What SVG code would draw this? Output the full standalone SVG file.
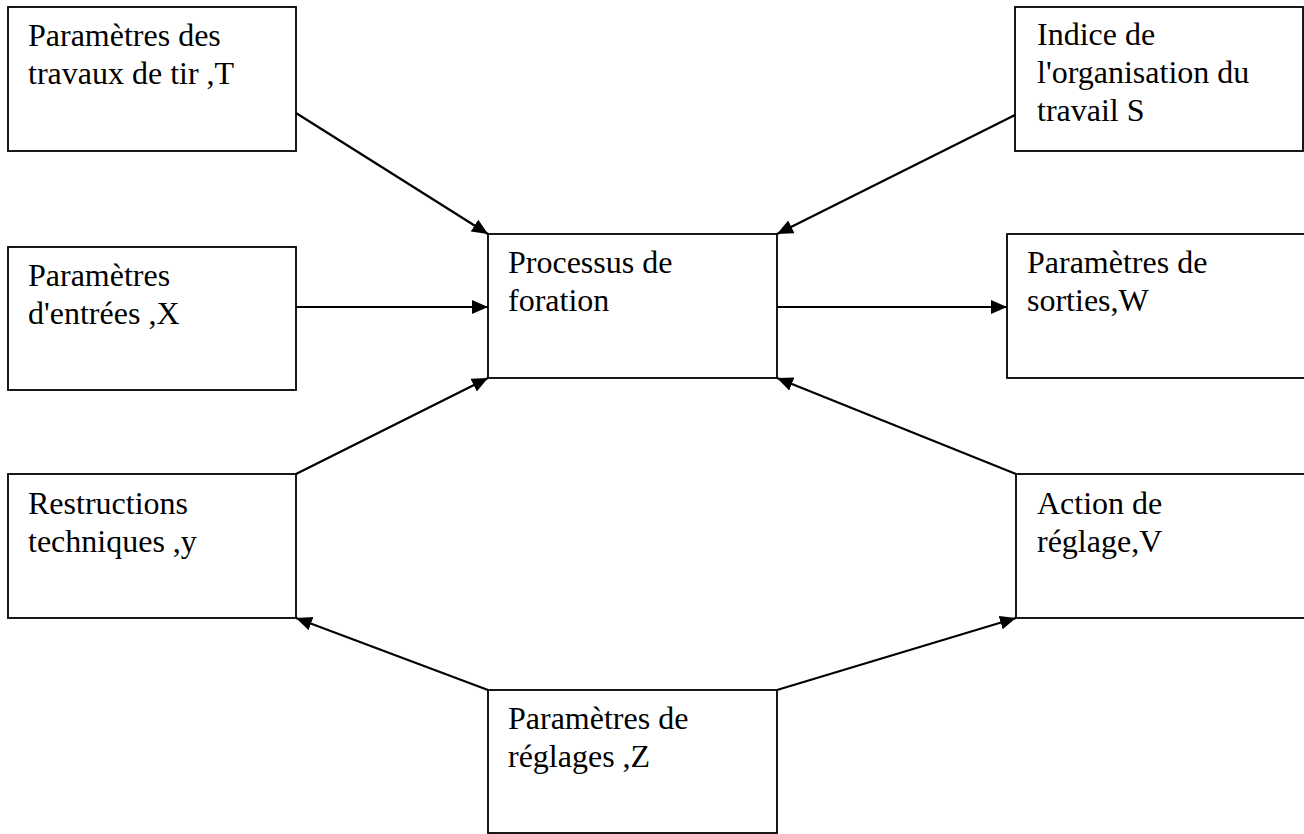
<svg xmlns="http://www.w3.org/2000/svg" width="1304" height="834" viewBox="0 0 1304 834">
  <style>
    .box { fill: #ffffff; stroke: #000000; stroke-width: 1.8; }
    .lbl { font-family: 'Times New Roman', 'Liberation Serif', 'DejaVu Serif', serif; font-size: 32px; fill: #000000; }
    .con { stroke: #000000; stroke-width: 2.2; fill: none; marker-end: url(#arr); }
  </style>
  <defs>
    <marker id="arr" markerUnits="userSpaceOnUse" markerWidth="18" markerHeight="16" refX="16" refY="7" orient="auto">
      <path d="M0,0 L16,7 L0,14 z" fill="#000000"/>
    </marker>
  </defs>
  <rect width="1304" height="834" fill="#ffffff"/>

  <g id="connectors">
    <line class="con" x1="296" y1="113" x2="488" y2="234"/>
    <line class="con" x1="1015" y1="115" x2="777" y2="234"/>
    <line class="con" x1="296" y1="307" x2="488" y2="307"/>
    <line class="con" x1="777" y1="307" x2="1007" y2="307"/>
    <line class="con" x1="296" y1="474" x2="488" y2="378"/>
    <line class="con" x1="1016" y1="474" x2="777" y2="378"/>
    <line class="con" x1="488" y1="690" x2="296" y2="618"/>
    <line class="con" x1="777" y1="690" x2="1016" y2="618"/>
  </g>

  <g id="node-T">
    <rect class="box" x="8" y="7" width="288" height="144"/>
    <text class="lbl" x="28" y="46">Paramètres des</text>
    <text class="lbl" x="28" y="84">travaux de tir ,T</text>
  </g>

  <g id="node-S">
    <rect class="box" x="1015" y="7" width="288" height="144"/>
    <text class="lbl" x="1037" y="45">Indice de</text>
    <text class="lbl" x="1037" y="83">l'organisation du</text>
    <text class="lbl" x="1037" y="121">travail S</text>
  </g>

  <g id="node-X">
    <rect class="box" x="8" y="247" width="288" height="143"/>
    <text class="lbl" x="28" y="286">Paramètres</text>
    <text class="lbl" x="28" y="324">d'entrées ,X</text>
  </g>

  <g id="node-process">
    <rect class="box" x="488" y="234" width="289" height="144"/>
    <text class="lbl" x="508" y="273">Processus de</text>
    <text class="lbl" x="508" y="311">foration</text>
  </g>

  <g id="node-W">
    <rect class="box" x="1007" y="234" width="310" height="144"/>
    <text class="lbl" x="1027" y="273">Paramètres de</text>
    <text class="lbl" x="1027" y="311">sorties,W</text>
  </g>

  <g id="node-y">
    <rect class="box" x="8" y="474" width="288" height="144"/>
    <text class="lbl" x="28" y="514">Restructions</text>
    <text class="lbl" x="28" y="552">techniques ,y</text>
  </g>

  <g id="node-V">
    <rect class="box" x="1016" y="474" width="310" height="144"/>
    <text class="lbl" x="1037" y="514">Action de</text>
    <text class="lbl" x="1037" y="552">réglage,V</text>
  </g>

  <g id="node-Z">
    <rect class="box" x="488" y="690" width="289" height="143"/>
    <text class="lbl" x="508" y="729">Paramètres de</text>
    <text class="lbl" x="508" y="767">réglages ,Z</text>
  </g>
</svg>
